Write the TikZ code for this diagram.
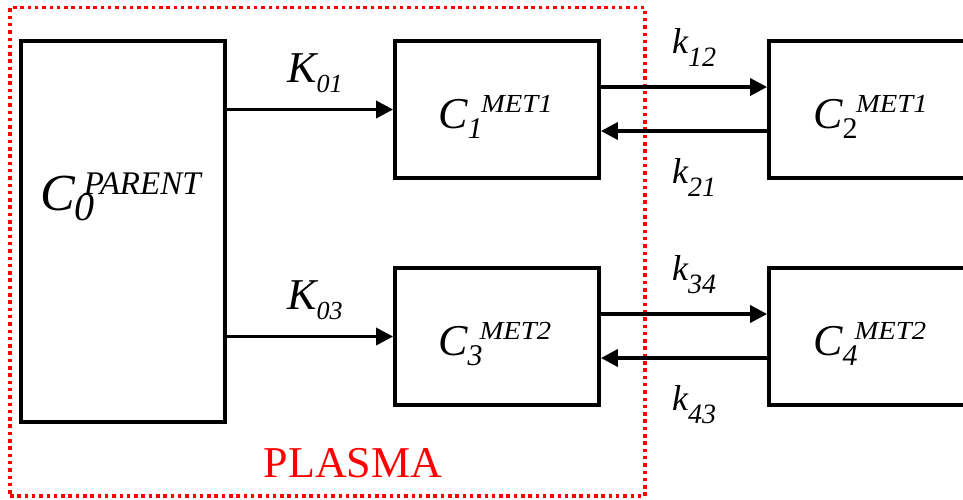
\documentclass[tikz,border=0pt]{standalone}
\usepackage{fontspec}
\setmainfont{Liberation Serif}
\usetikzlibrary{arrows.meta}
% #1 letter, #2 size, #3 sup, #4 sup size, #5 sub, #6 sub size, #7 sup kern, #8 sup xscale
\newcommand{\conc}[8]{{\itshape\fontsize{#2pt}{#2pt}\selectfont #1}\ooalign{\hspace{#7pt}\raisebox{16pt}{\scalebox{#8}[1]{\itshape\fontsize{#4pt}{#4pt}\selectfont #3}}\cr\raisebox{-10pt}{\itshape\fontsize{#6pt}{#6pt}\selectfont #5}\cr}}
\newcommand{\msub}[5]{{\itshape\fontsize{#2pt}{#2pt}\selectfont #1}\raisebox{-#5pt}{\itshape\fontsize{#4pt}{#4pt}\selectfont #3}}
\tikzset{
  box/.style={draw, line width=3.8pt, minimum width=204pt, minimum height=137pt, inner sep=0pt},
  arr/.style={line width=3.5pt, -{Triangle[length=17pt,width=17pt]}},
  lab/.style={inner sep=0pt, anchor=base west},
}
\begin{document}
\begin{tikzpicture}[x=1pt,y=-1pt]
\useasboundingbox (0,0) rectangle (963,499);
\clip (0,0) rectangle (963,499);
\fill[white] (0,0) rectangle (963,499);
% plasma frame
\node[draw=red, line width=3.5pt, dash pattern=on 3.5pt off 3.8pt, minimum width=635pt, minimum height=488.5pt, inner sep=0pt] (plasma) at (327.5,251.75) {};
\node[text=red, inner sep=0pt, anchor=base, font=\fontsize{44pt}{44pt}\selectfont] (plasmalab) at (353,477) {PLASMA};
% boxes
\node[box, minimum height=381pt] (C0) at (123,231.5) {};
\node[box] (C1) at (497,109.5) {};
\node[box] (C2) at (871,109.5) {};
\node[box] (C3) at (497,336.5) {};
\node[box] (C4) at (871,336.5) {};
% box labels
\node[lab] (l0) at (40,210) {\conc{C}{52}{PARENT}{33}{0}{40}{9}{1}};
\node[lab] (l1) at (438,128) {\conc{C}{44}{MET1}{26}{1}{30}{13.5}{1.1}};
\node[lab] (l2) at (813,128) {\conc{C}{44}{MET1}{26}{\upshape 2}{30}{13.5}{1.1}};
\node[lab] (l3) at (438,355) {\conc{C}{44}{MET2}{26}{3}{30}{12}{1.1}};
\node[lab] (l4) at (813,355) {\conc{C}{44}{MET2}{26}{4}{30}{12}{1.1}};
% arrows
\draw[arr] (C1.west -| C0.east) -- (C1.west);
\draw[arr] (C3.west -| C0.east) -- (C3.west);
\draw[arr] ([yshift=22.5pt]C1.east) -- ([yshift=22.5pt]C1.east -| C2.west);
\draw[arr] ([yshift=-21.5pt]C2.west) -- ([yshift=-21.5pt]C2.west -| C1.east);
\draw[arr] ([yshift=22.5pt]C3.east) -- ([yshift=22.5pt]C3.east -| C4.west);
\draw[arr] ([yshift=-21.5pt]C4.west) -- ([yshift=-21.5pt]C4.west -| C3.east);
% rate labels
\node[lab] (K01) at (287,82) {\msub{K}{44}{01}{26}{10}};
\node[lab] (K03) at (287,309) {\msub{K}{44}{03}{26}{10}};
\node[lab] (k12) at (672,53) {\msub{k}{36}{12}{28}{13}};
\node[lab] (k21) at (672,183) {\msub{k}{36}{21}{28}{13}};
\node[lab] (k34) at (672,280) {\msub{k}{36}{34}{28}{13}};
\node[lab] (k43) at (672,410) {\msub{k}{36}{43}{28}{13}};
\end{tikzpicture}
\end{document}
